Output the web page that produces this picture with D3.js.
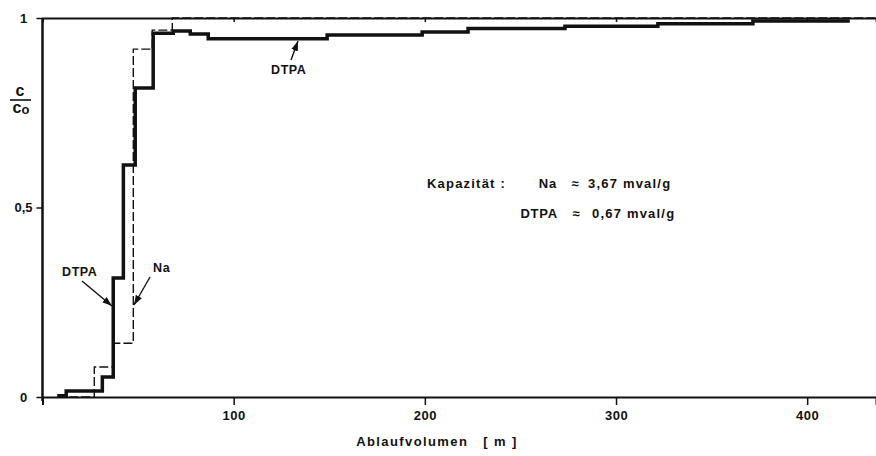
<!DOCTYPE html>
<html>
<head>
<meta charset="utf-8">
<script src="https://cdn.jsdelivr.net/npm/d3@7"></script>
<style>
  html, body { margin: 0; padding: 0; background: #fff; }
  svg text { font-family: "Liberation Sans", Arial, sans-serif; font-weight: bold; fill: #111; }
</style>
</head>
<body>
<svg id="chart" width="876" height="456"></svg>
<script>
// Durchbruchskurven: Ablaufvolumen vs. c/c0
const dtpaVolume = [7.7, 12.4, 31.3, 37, 42.3, 48.5, 57.9, 68.4, 77.3, 86.7, 148.9, 198.6, 222.6, 273.3, 321.9, 371.6, 422.3];
const dtpaRatio  = [0.003, 0.016, 0.053, 0.314, 0.612, 0.815, 0.960, 0.966, 0.958, 0.945, 0.955, 0.963, 0.972, 0.978, 0.985, 0.992, 0.992];

const naVolume = [7.7, 27.1, 37, 47.5, 57.4, 67.9, 436];
const naRatio  = [0, 0.079, 0.142, 0.918, 0.968, 1.0, 1.0];

const xTicks = [100, 200, 300, 400];
const yTicks = [0, 0.5, 1];
const yTickLabels = ["0", "0,5", "1"];

const svg = d3.select("#chart");
const ink = "#111";

const x = d3.scaleLinear().domain([0, 436]).range([42.5, 876]);
const y = d3.scaleLinear().domain([0, 1]).range([397, 18]);

// Achsen
const xAxis = d3.axisBottom(x).tickValues(xTicks).tickSize(8).tickPadding(6).tickFormat(d3.format("d"));
const gx = svg.append("g").attr("transform", `translate(0,${y(0)})`).call(xAxis);
gx.select(".domain").attr("stroke", ink).attr("stroke-width", 2);
gx.selectAll(".tick line").attr("stroke", ink).attr("stroke-width", 1.5);
gx.selectAll(".tick text").attr("font-size", 13).attr("fill", ink).style("letter-spacing", "0.5px");

const yAxis = d3.axisLeft(y).tickValues(yTicks).tickSize(6).tickPadding(8)
  .tickFormat((d, i) => yTickLabels[i]);
const gy = svg.append("g").attr("transform", `translate(${x(0)},0)`).call(yAxis);
gy.select(".domain").attr("stroke", ink).attr("stroke-width", 2.5).attr("d", `M0,${y(1)}V${y(0) + 4}`);
gy.selectAll(".tick line").attr("stroke", ink).attr("stroke-width", 1.5);
gy.selectAll(".tick text").attr("font-size", 13).attr("fill", ink)
  .attr("text-anchor", "middle").attr("x", -19);

// obere Begrenzung bei c/c0 = 1 mit kurzen Marken
const gTop = svg.append("g").attr("transform", `translate(0,${y(1)})`)
  .call(d3.axisBottom(x).tickValues(xTicks).tickSize(4).tickFormat(""));
gTop.select(".domain").attr("stroke", ink).attr("stroke-width", 2);
gTop.selectAll(".tick line").attr("stroke", ink).attr("stroke-width", 1.5);

// Kurven
const stepLine = d3.line().x(d => x(d[0])).y(d => y(d[1])).curve(d3.curveStepAfter);

svg.append("path")
  .datum(d3.zip(naVolume, naRatio))
  .attr("d", stepLine)
  .attr("fill", "none").attr("stroke", ink).attr("stroke-width", 1.4)
  .attr("stroke-dasharray", "9,3");

svg.append("path")
  .datum(d3.zip(dtpaVolume, dtpaRatio))
  .attr("d", stepLine)
  .attr("fill", "none").attr("stroke", ink).attr("stroke-width", 3.5)
  .attr("stroke-linejoin", "miter");

// Achsentitel c/c0
svg.append("text").attr("x", 20).attr("y", 96).attr("text-anchor", "middle")
  .attr("font-size", 16).text("c");
svg.append("line").attr("x1", 10).attr("x2", 31).attr("y1", 100).attr("y2", 100)
  .attr("stroke", ink).attr("stroke-width", 1.6);
const c0 = svg.append("text").attr("x", 21).attr("y", 113).attr("text-anchor", "middle").attr("font-size", 16);
c0.append("tspan").text("c");
c0.append("tspan").attr("font-size", 13).attr("dy", 1).text("o");

svg.append("text").attr("x", 437).attr("y", 446).attr("text-anchor", "middle")
  .attr("font-size", 13).style("letter-spacing", "1.4px").style("white-space", "pre")
  .text("Ablaufvolumen   [ m ]");

// Kapazitätsangaben
const info = svg.append("g").attr("font-size", 13);
info.append("text").attr("x", 427).attr("y", 188).style("letter-spacing", "1.2px").text("Kapazität :");
info.append("text").attr("x", 557).attr("y", 188).attr("text-anchor", "end").style("letter-spacing", "0.8px").text("Na");
info.append("text").attr("x", 575).attr("y", 188).attr("text-anchor", "middle").text("≈");
info.append("text").attr("x", 588).attr("y", 188).style("letter-spacing", "1.2px").text("3,67 mval/g");
info.append("text").attr("x", 558).attr("y", 218).attr("text-anchor", "end").style("letter-spacing", "0.8px").text("DTPA");
info.append("text").attr("x", 576).attr("y", 218).attr("text-anchor", "middle").text("≈");
info.append("text").attr("x", 592).attr("y", 218).style("letter-spacing", "1.2px").text("0,67 mval/g");

// Beschriftungen mit Pfeilen
svg.append("defs").append("marker")
  .attr("id", "arrow").attr("viewBox", "0 0 10 10").attr("refX", 10).attr("refY", 5)
  .attr("markerWidth", 7).attr("markerHeight", 7).attr("orient", "auto")
  .append("path").attr("d", "M0,1.5L10,5L0,8.5Z").attr("fill", ink);

function label(text, tx, ty, ax1, ay1, ax2, ay2) {
  svg.append("text").attr("x", tx).attr("y", ty).attr("font-size", 12.5).style("letter-spacing", "0.6px").text(text);
  svg.append("line").attr("x1", ax1).attr("y1", ay1).attr("x2", ax2).attr("y2", ay2)
    .attr("stroke", ink).attr("stroke-width", 1.4).attr("marker-end", "url(#arrow)");
}
label("DTPA", 62, 276, 82, 281, 112, 306);
label("Na", 153, 272, 150, 277, 134, 305);
label("DTPA", 271, 74, 291, 60, 298, 41);
</script>
</body>
</html>
